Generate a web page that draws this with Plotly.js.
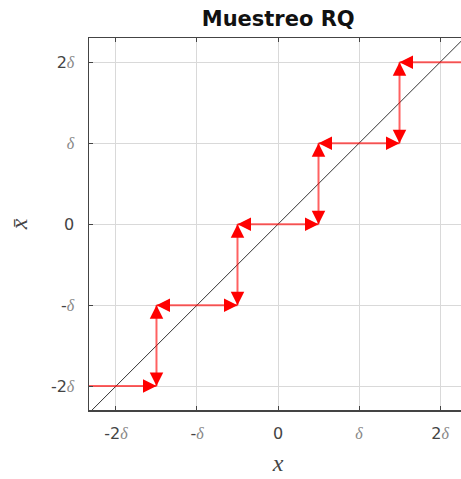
<!DOCTYPE html>
<html>
<head>
<meta charset="utf-8">
<script src="https://cdn.plot.ly/plotly-3.0.1.min.js"></script>
<style>
html,body{margin:0;padding:0;overflow:hidden;background:#fff;}
#chart{width:470px;height:479px;}
</style>
</head>
<body>
<div id="chart"></div>
<script>
// Quantizer (midtread) staircase data
const hY  = [-2, -1, 0, 1, 2];          // output levels (horizontal steps)
const hX0 = [-2.5, -1.5, -0.5, 0.5, 1.5];
const hX1 = [-1.5, -0.5, 0.5, 1.5, 2.5];
const vX  = [-1.5, -0.5, 0.5, 1.5];     // decision thresholds (vertical steps)
const vY0 = [-2, -1, 0, 1];
const vY1 = [-1, 0, 1, 2];
const diagX = [-2.5, 2.5];
const diagY = [-2.5, 2.5];
const tickVals = [-2, -1, 0, 1, 2];
const D = '<span style="font-family:\'Liberation Serif\',serif;font-style:italic;fill:#888">δ</span>';
const tickText = ['-2' + D, '-' + D, '0', D, '2' + D];

const xr = [-2.333, 2.333];
const yr = [-2.295, 2.30];

const RED = '#ff0000';
const RED_LINE = 'rgba(255,0,0,0.62)';
// build staircase line with gaps
const sx = [], sy = [];
hY.forEach((y, i) => { sx.push(hX0[i], hX1[i], null); sy.push(y, y, null); });
vX.forEach((x, i) => { sx.push(x, x, null); sy.push(vY0[i], vY1[i], null); });

const inRange = (x, y) => x >= xr[0] && x <= xr[1] && y >= yr[0] && y <= yr[1];
const annotations = [];
const HEAD = 0.17; // short shaft so only the head shows solid
function arrow(tx, ty, hx, hy) {
  if (!inRange(hx, hy)) return;
  const dx = hx - tx, dy = hy - ty, L = Math.hypot(dx, dy);
  annotations.push({
    x: hx, y: hy, ax: hx - dx / L * HEAD, ay: hy - dy / L * HEAD,
    xref: 'x', yref: 'y', axref: 'x', ayref: 'y',
    text: '', showarrow: true, arrowhead: 2, arrowsize: 1.35, arrowwidth: 2,
    arrowcolor: RED, standoff: 0, startstandoff: 0
  });
}
hY.forEach((y, i) => {
  const m = (hX0[i] + hX1[i]) / 2;
  arrow(m, y, hX0[i], y);
  arrow(m, y, hX1[i], y);
});
vX.forEach((x, i) => {
  const m = (vY0[i] + vY1[i]) / 2;
  arrow(x, m, x, vY0[i]);
  arrow(x, m, x, vY1[i]);
});

const traces = [
  { x: diagX, y: diagY, mode: 'lines', line: { color: '#333', width: 1 }, hoverinfo: 'skip' },
  { x: sx, y: sy, mode: 'lines', line: { color: RED_LINE, width: 2 }, connectgaps: false, hoverinfo: 'skip' }
];

const axisCommon = {
  tickvals: tickVals, ticktext: tickText,
  showgrid: true, gridcolor: '#d9d9d9', gridwidth: 1,
  zeroline: false, showline: true, linecolor: '#444', linewidth: 1.5, mirror: 'ticks',
  ticks: 'inside', ticklen: 4, tickcolor: '#444', tickwidth: 1,
  tickfont: { family: 'DejaVu Sans, sans-serif', size: 16, color: '#444' }
};

const layout = {
  width: 470, height: 479,
  margin: { l: 89, r: 3, t: 38, b: 69 },
  paper_bgcolor: '#fff', plot_bgcolor: '#fff',
  showlegend: false,
  title: { text: '<b>Muestreo RQ</b>', x: 0.592, xanchor: 'center', y: 0.962, yanchor: 'middle',
           font: { family: 'DejaVu Sans, sans-serif', size: 21, color: '#111' } },
  xaxis: Object.assign({}, axisCommon, {
    range: xr, ticklabelstandoff: 8,
    title: { text: '<i>x</i>', standoff: 12, font: { family: 'Liberation Serif, serif', size: 24, color: '#444' } }
  }),
  yaxis: Object.assign({}, axisCommon, {
    range: yr, ticklabelstandoff: 10,
    title: { text: '<i>x̄</i>', standoff: 16, font: { family: 'Liberation Serif, serif', size: 24, color: '#444' } }
  }),
  annotations: annotations
};

Plotly.newPlot('chart', traces, layout, { staticPlot: true, displayModeBar: false });
</script>
</body>
</html>
